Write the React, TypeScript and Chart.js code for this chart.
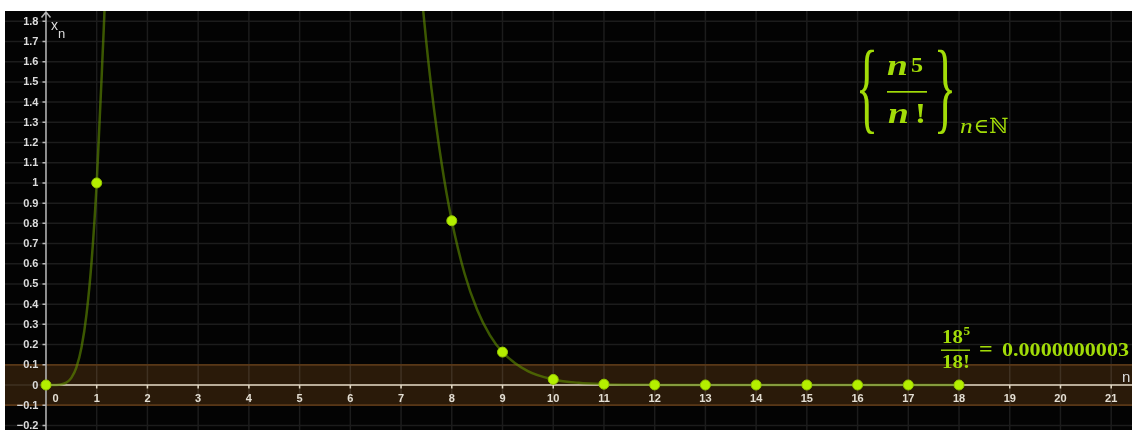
import React, { useEffect, useRef } from "react";
import { Chart, registerables } from "chart.js";

Chart.register(...registerables);

// ---- data ----
// the sequence terms x_n = n^5 / n!
const nValues = [0, 1, 2, 3, 4, 5, 6, 7, 8, 9, 10, 11, 12, 13, 14, 15, 16, 17, 18];
const xnValues = [
  0, 1, 16, 40.5, 42.667, 26.042, 10.8, 3.3347, 0.81270, 0.16272, 0.027557, 0.0040347,
  0.00051948, 0.000059626, 0.0000061693, 0.00000058070, 0.000000050115, 0.0000000039919,
  0.00000000029514,
];
// the continuous curve drawn behind the terms
const curveX = [0, 0.2, 0.4, 0.5, 0.6, 0.7, 0.8, 0.9, 1, 1.1, 1.2, 2, 3, 4, 5, 6, 7, 7.3, 7.4, 7.5, 7.6, 7.8, 8, 8.25, 8.5, 8.75, 9, 9.5, 10, 10.5, 11, 12, 13, 14, 15, 16, 17, 18];
const curveY = [0, 0.0004, 0.0115, 0.035, 0.087, 0.185, 0.352, 0.614, 1, 1.539, 2.258, 16, 40.5, 42.667, 26.042, 10.8, 3.335, 2.233, 1.946, 1.691, 1.466, 1.096, 0.813, 0.553, 0.372, 0.247, 0.163, 0.0683, 0.0276, 0.0107, 0.0040, 0.0005, 0.00006, 0, 0, 0, 0, 0];
const xTickValues = [0, 1, 2, 3, 4, 5, 6, 7, 8, 9, 10, 11, 12, 13, 14, 15, 16, 17, 18, 19, 20, 21];
const xTickLabels = ["0", "1", "2", "3", "4", "5", "6", "7", "8", "9", "10", "11", "12", "13", "14", "15", "16", "17", "18", "19", "20", "21"];
const yTickValues = [-0.2, -0.1, 0, 0.1, 0.2, 0.3, 0.4, 0.5, 0.6, 0.7, 0.8, 0.9, 1, 1.1, 1.2, 1.3, 1.4, 1.5, 1.6, 1.7, 1.8];
const yTickLabels = ["\u22120.2", "\u22120.1", "0", "0.1", "0.2", "0.3", "0.4", "0.5", "0.6", "0.7", "0.8", "0.9", "1", "1.1", "1.2", "1.3", "1.4", "1.5", "1.6", "1.7", "1.8"];
const bandLimits = [-0.1, 0.1];
const xRange = [-0.808, 21.41];
const yRange = [-0.2228, 1.851];
const lastTermText = "0.0000000003";

const FORM = "#a2dc08";
const SERIF = "'Liberation Serif', 'DejaVu Serif', serif";
const SANS = "'Liberation Sans', Arial, sans-serif";

function drawScaled(ctx: CanvasRenderingContext2D, text: string, font: string, x: number, y: number, sx = 1) {
  ctx.save();
  ctx.font = font;
  ctx.textAlign = "left";
  ctx.textBaseline = "alphabetic";
  const w = ctx.measureText(text).width * sx;
  ctx.translate(x, y);
  ctx.scale(sx, 1);
  ctx.fillText(text, 0, 0);
  ctx.restore();
  return w;
}

function drawFitted(ctx: CanvasRenderingContext2D, text: string, font: string, bx: number, by: number, bw: number, bh: number) {
  ctx.save();
  ctx.font = font;
  ctx.textAlign = "left";
  ctx.textBaseline = "alphabetic";
  const m = ctx.measureText(text);
  const inkL = -m.actualBoundingBoxLeft;
  const inkW = m.actualBoundingBoxLeft + m.actualBoundingBoxRight;
  const inkT = -m.actualBoundingBoxAscent;
  const inkH = m.actualBoundingBoxAscent + m.actualBoundingBoxDescent;
  const sx = bw / inkW;
  const sy = bh / inkH;
  ctx.translate(bx - inkL * sx, by - inkT * sy);
  ctx.scale(sx, sy);
  ctx.fillText(text, 0, 0);
  ctx.restore();
}

const geoPlugin = {
  id: "geoPlugin",
  beforeDraw(chart: any) {
    const { ctx, scales } = chart;
    const x = scales.x, y = scales.y;
    const W = chart.width, H = chart.height;
    ctx.save();
    ctx.fillStyle = "#030303";
    ctx.fillRect(0, 0, W, H);
    const bTop = y.getPixelForValue(bandLimits[1]);
    const bBot = y.getPixelForValue(bandLimits[0]);
    ctx.fillStyle = "#2a1a09";
    ctx.fillRect(0, bTop, W, bBot - bTop);
    ctx.strokeStyle = "rgba(255,255,255,0.10)";
    ctx.lineWidth = 1.5;
    ctx.beginPath();
    for (const v of xTickValues) {
      const px = x.getPixelForValue(v);
      ctx.moveTo(px, 0);
      ctx.lineTo(px, H);
    }
    for (const v of yTickValues) {
      const py = y.getPixelForValue(v);
      ctx.moveTo(0, py);
      ctx.lineTo(W, py);
    }
    ctx.stroke();
    ctx.strokeStyle = "#6b3f15";
    ctx.lineWidth = 1.3;
    ctx.beginPath();
    ctx.moveTo(0, bTop);
    ctx.lineTo(W, bTop);
    ctx.moveTo(0, bBot);
    ctx.lineTo(W, bBot);
    ctx.stroke();
    ctx.restore();
  },
  beforeDatasetsDraw(chart: any) {
    const { ctx, scales } = chart;
    const x = scales.x, y = scales.y;
    const W = chart.width, H = chart.height;
    const ax = x.getPixelForValue(0);
    const ay = y.getPixelForValue(0);
    ctx.save();
    ctx.strokeStyle = "#b4b4b4";
    ctx.lineWidth = 1.5;
    ctx.beginPath();
    ctx.moveTo(ax, H);
    ctx.lineTo(ax, 1);
    ctx.moveTo(ax - 4.5, 6.5);
    ctx.lineTo(ax, 1);
    ctx.lineTo(ax + 4.5, 6.5);
    for (const v of yTickValues) {
      const py = y.getPixelForValue(v);
      ctx.moveTo(ax - 3.5, py);
      ctx.lineTo(ax, py);
    }
    ctx.stroke();
    ctx.strokeStyle = "#e2d8c4";
    ctx.beginPath();
    ctx.moveTo(ax, ay);
    ctx.lineTo(W, ay);
    for (const v of xTickValues) {
      const px = x.getPixelForValue(v);
      ctx.moveTo(px, ay);
      ctx.lineTo(px, ay + 3.5);
    }
    ctx.stroke();
    ctx.restore();
  },
  afterDraw(chart: any) {
    const { ctx, scales } = chart;
    const x = scales.x, y = scales.y;
    const ax = x.getPixelForValue(0);
    const ay = y.getPixelForValue(0);
    ctx.save();
    ctx.font = `bold 11px ${SANS}`;
    ctx.fillStyle = "#dcdcdc";
    ctx.textAlign = "right";
    ctx.textBaseline = "middle";
    yTickValues.forEach((v, i) => {
      ctx.fillText(yTickLabels[i], ax - 7.5, y.getPixelForValue(v) + 0.5);
    });
    ctx.fillStyle = "#e4dfd4";
    ctx.textAlign = "center";
    ctx.textBaseline = "top";
    xTickValues.forEach((v, i) => {
      const px = x.getPixelForValue(v) + (v === 0 ? 9.5 : 0);
      ctx.fillText(xTickLabels[i], px, ay + 8);
    });
    ctx.fillStyle = "#dcdcdc";
    ctx.textAlign = "left";
    ctx.textBaseline = "alphabetic";
    ctx.font = `14px ${SANS}`;
    ctx.fillText("x", ax + 5, 19);
    ctx.font = `13px ${SANS}`;
    ctx.fillText("n", ax + 12, 26.5);
    ctx.font = `15px ${SANS}`;
    ctx.fillText("n", 1117, 371);

    // formula {n^5/n!}_{n∈N}
    ctx.fillStyle = FORM;
    drawFitted(ctx, "{", `100px ${SERIF}`, 855, 37, 14, 85);
    drawFitted(ctx, "}", `100px ${SERIF}`, 933, 37, 14, 85);
    drawScaled(ctx, "n", `italic bold 30px ${SERIF}`, 882, 64, 1.25);
    drawScaled(ctx, "5", `bold 22px ${SERIF}`, 906, 61, 1.1);
    ctx.fillRect(882, 80, 40, 1.7);
    drawScaled(ctx, "n", `italic bold 30px ${SERIF}`, 883, 112, 1.25);
    drawScaled(ctx, "!", `bold 30px ${SERIF}`, 910, 112, 1.1);
    const ws = drawScaled(ctx, "n", `italic 22px ${SERIF}`, 955, 122, 1.15);
    drawScaled(ctx, "\u2208\u2115", `21px ${SERIF}`, 955 + ws + 1, 122, 1.0);

    // formula 18^5/18! = ...
    drawScaled(ctx, "18", `bold 19px ${SERIF}`, 937, 332, 1.1);
    drawScaled(ctx, "5", `bold 12px ${SERIF}`, 958.5, 324, 1.1);
    ctx.fillRect(936, 338.5, 29, 1.4);
    drawScaled(ctx, "18!", `bold 19px ${SERIF}`, 937, 357, 1.1);
    drawScaled(ctx, "=", `bold 20px ${SERIF}`, 974, 345, 1.2);
    ctx.font = `bold 19px ${SERIF}`;
    const w0 = ctx.measureText(lastTermText).width;
    drawScaled(ctx, lastTermText, `bold 19px ${SERIF}`, 997, 345, 127 / w0);
    ctx.restore();
  },
};

export default function App() {
  const ref = useRef<HTMLCanvasElement | null>(null);
  useEffect(() => {
    if (!ref.current) return;
    const chart = new Chart(ref.current, {
      type: "line",
      data: {
        datasets: [
          {
            data: curveX.map((cx, i) => ({ x: cx, y: curveY[i] })),
            order: 2,
            borderColor: "rgba(98,145,0,0.6)",
            borderWidth: 2.5,
            cubicInterpolationMode: "monotone",
            capBezierPoints: false,
            pointRadius: 0,
            pointHoverRadius: 0,
            fill: false,
          } as any,
          {
            data: nValues.map((n, i) => ({ x: n, y: xnValues[i] })),
            order: 1,
            showLine: false,
            pointRadius: 5,
            pointHoverRadius: 5,
            pointBackgroundColor: "#b4ef00",
            pointBorderColor: "#95c800",
            pointBorderWidth: 1,
            fill: false,
          } as any,
        ],
      },
      options: {
        animation: false,
        responsive: true,
        maintainAspectRatio: false,
        layout: { padding: 0, autoPadding: false },
        events: [],
        plugins: { legend: { display: false }, tooltip: { enabled: false } },
        scales: {
          x: { type: "linear", min: xRange[0], max: xRange[1], display: false },
          y: { type: "linear", min: yRange[0], max: yRange[1], display: false },
        },
      },
      plugins: [geoPlugin],
    });
    return () => chart.destroy();
  }, []);
  return (
    <div style={{ position: "fixed", left: 5, top: 11, width: 1127, height: 419 }}>
      <canvas ref={ref} />
    </div>
  );
}
